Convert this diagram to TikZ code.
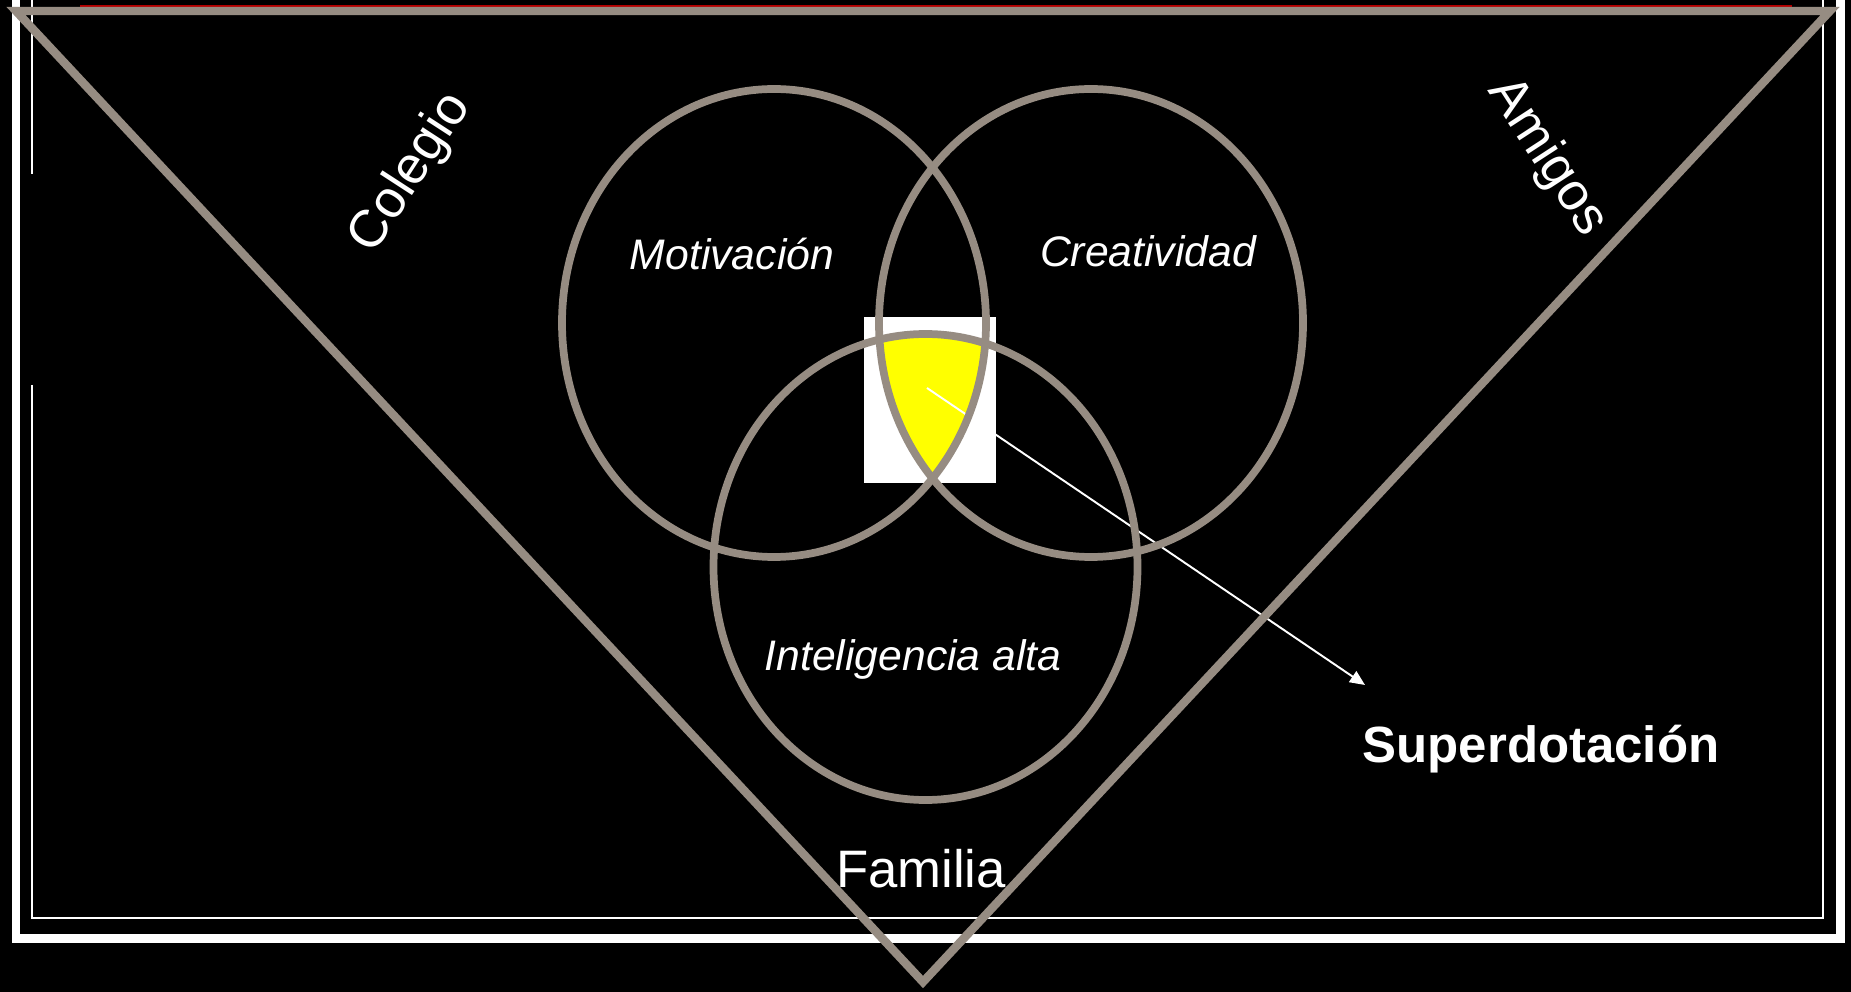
\documentclass[tikz,border=0pt]{standalone}
\usepackage{fontspec}
\setmainfont{Liberation Sans}
\usetikzlibrary{arrows.meta}
\definecolor{Taupe}{HTML}{968C82}
\definecolor{Rim}{HTML}{B40000}
\definecolor{Core}{HTML}{FFFF00}

\begin{document}
\begin{tikzpicture}[x=0.2mm,y=-0.2mm,
  ring/.style={Taupe,line width=4.4pt},
  trait/.style={white,anchor=base,font=\fontsize{24.3}{28}\selectfont\itshape},
  realm/.style={white,anchor=base,font=\fontsize{30}{35}\selectfont}]
\useasboundingbox (0,0) rectangle (1851,992);
\fill[black] (0,0) rectangle (1851,992);

% Slide frame.
\draw[white,line width=1.1pt] (32,0)--(32,174);
\draw[white,line width=1.1pt] (32,385)--(32,918)--(1823,918)--(1823,0);
\draw[white,line width=5.1pt] (16,0)--(16,938.5)--(1840,938.5)--(1840,0);
\draw[Rim,line width=0.85pt] (80,6)--(1792,6);

% Three rings and their common part.
\coordinate (motiv) at (774,323);
\coordinate (creat) at (1091,323);
\coordinate (intel) at (925.5,567);
\fill[white] (864,317) rectangle (996,483);
\begin{scope}
  \clip (motiv) ellipse [x radius=212,y radius=234];
  \clip (creat) ellipse [x radius=212,y radius=234];
  \fill[Core] (intel) ellipse [x radius=212,y radius=233];
\end{scope}

\coordinate (core) at (927,388);
\coordinate (tip) at (1365,685);
\draw[white,line width=1.1pt,-{Triangle[length=3mm,width=2.6mm]}] (core)--(tip);

\draw[ring] (motiv) ellipse [x radius=212,y radius=234];
\draw[ring] (creat) ellipse [x radius=212,y radius=234];
\draw[ring] (intel) ellipse [x radius=212,y radius=233];

% Surrounding triangle.
\draw[ring,line width=4.8pt,line join=miter] (16,11)--(1830,11)--(923,982)--cycle;

\node[trait] (motivacion) at (732,270) {Motivación};
\node[trait] (creatividad) at (1148,267) {Creatividad};
\node[trait] (inteligencia) at (913,671) {Inteligencia alta};
\node[realm] (familia) at (921,887) {Familia};
\node[realm,anchor=center,rotate=57] (colegio) at (411,173) {Colegio};
\node[realm,anchor=center,rotate=-57] (amigos) at (1547,157) {Amigos};
\node[realm,font=\fontsize{29}{34}\selectfont\bfseries] (superdotacion) at (1541,762) {Superdotación};
\end{tikzpicture}
\end{document}
